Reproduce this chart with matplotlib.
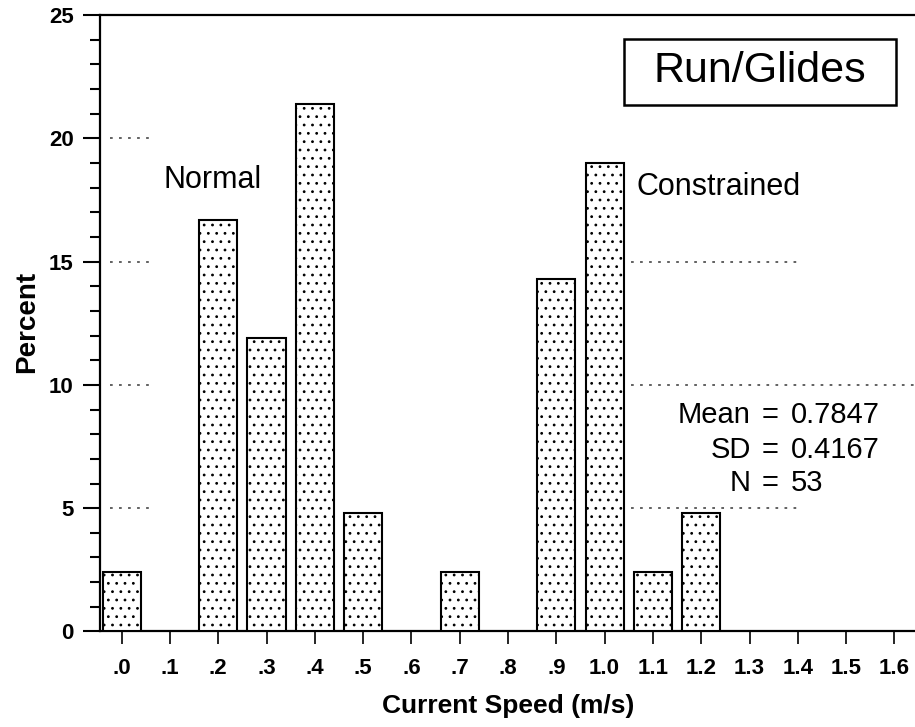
import matplotlib
matplotlib.use("Agg")
import matplotlib.pyplot as plt
from matplotlib.patches import Rectangle

plt.rcParams['font.family'] = ['Liberation Sans', 'DejaVu Sans']
plt.rcParams['hatch.linewidth'] = 0.8
plt.rcParams['hatch.color'] = '#808080'

# histogram of current speed (run/glides), percent of observations
speed = [0.0, 0.2, 0.3, 0.4, 0.5, 0.7, 0.9, 1.0, 1.1, 1.2]
percent = [2.4, 16.7, 11.9, 21.4, 4.8, 2.4, 14.3, 19.0, 2.4, 4.8]

xticks = [i / 10 for i in range(17)]
xlabels = ['.0', '.1', '.2', '.3', '.4', '.5', '.6', '.7', '.8', '.9',
           '1.0', '1.1', '1.2', '1.3', '1.4', '1.5', '1.6']
yticks = [0, 5, 10, 15, 20, 25]

stat_names = ['Mean', 'SD', 'N']
stat_values = ['0.7847', '0.4167', '53']

fig = plt.figure(figsize=(9.15, 7.27), dpi=100)
ax = fig.add_axes([0.1093, 0.1314, 0.8907, 0.848])

ax.bar(speed, percent, width=0.079, facecolor='white', edgecolor='black',
       linewidth=1.5, hatch='..', zorder=3)

# dotted reference lines (only partly visible in the original)
dots = dict(color='#555555', linestyle=(0, (1.5, 3.5)), linewidth=1.3, zorder=2)
for yv in [5, 10, 15, 20]:
    ax.plot([-0.024, 0.059], [yv, yv], **dots)
ax.plot([1.036, 1.40], [15, 15], **dots)
ax.plot([1.036, 1.64], [10, 10], **dots)
ax.plot([1.036, 1.40], [5, 5], **dots)

ax.set_xlim(-0.0447, 1.6426)
ax.set_ylim(0, 25)

ax.set_xticks(xticks)
ax.set_xticklabels(xlabels, fontsize=16, fontweight='bold')
ax.set_yticks(yticks)
ax.set_yticklabels([str(v) for v in yticks], fontsize=16, fontweight='bold')
ax.set_yticks(range(26), minor=True)

ax.tick_params(axis='y', which='major', length=12, width=1.5, pad=7)
ax.tick_params(axis='y', which='minor', length=7, width=1.5)
ax.tick_params(axis='x', which='major', length=9, width=1.2, pad=10)

for side in ['left', 'bottom', 'top']:
    ax.spines[side].set_linewidth(1.6)
ax.spines['right'].set_visible(False)

# title box
ax.add_patch(Rectangle((1.040, 21.35), 0.563, 2.68, fill=False,
                       edgecolor='black', linewidth=1.8, zorder=4))
ax.text(1.322, 22.72, 'Run/Glides', fontsize=31, ha='center', va='center')

ax.text(0.086, 18.29, 'Normal', fontsize=22, ha='left', va='center')
ax.text(1.065, 18.03, 'Constrained', fontsize=22, ha='left', va='center')

stat_y = [8.78, 7.36, 6.02]
for name, val, yv in zip(stat_names, stat_values, stat_y):
    ax.text(1.303, yv, name, fontsize=21, ha='right', va='center')
    ax.text(1.342, yv, '=', fontsize=21, ha='center', va='center')
    ax.text(1.386, yv, val, fontsize=21, ha='left', va='center')

fig.text(27 / 915, 1 - 322 / 727, 'Percent', rotation=90, fontsize=20,
         fontweight='bold', ha='center', va='center')
fig.text(508 / 915, 1 - 706 / 727, 'Current Speed (m/s)', fontsize=19,
         fontweight='bold', ha='center', va='center')

fig.savefig('out.png', dpi=100)
